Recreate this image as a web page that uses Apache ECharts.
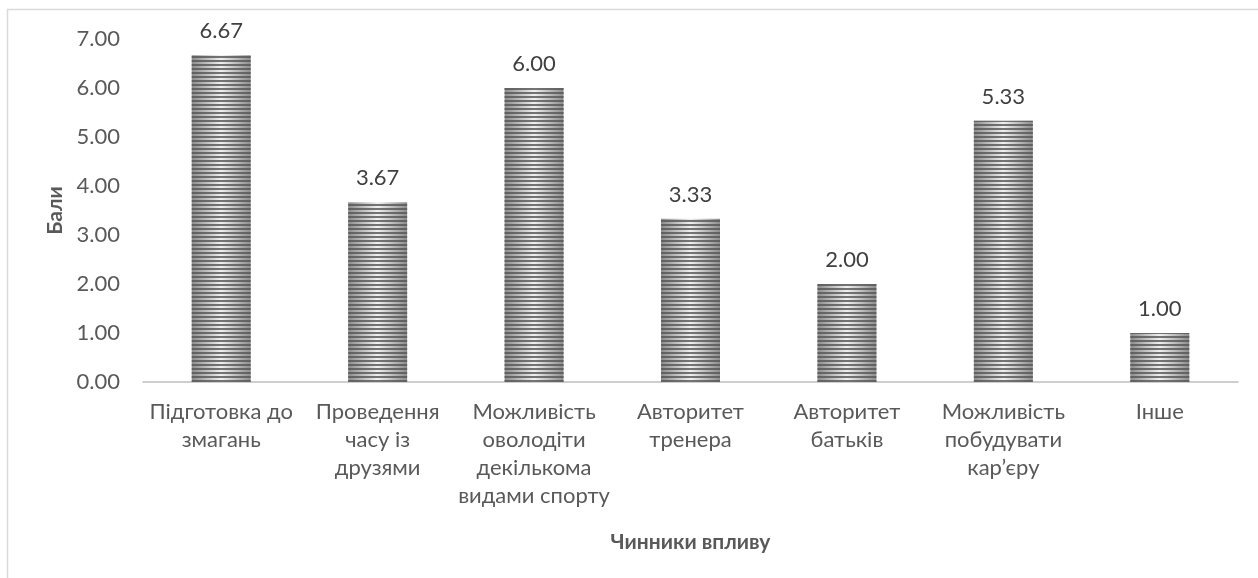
<!DOCTYPE html>
<html>
<head>
<meta charset="utf-8">
<script src="https://cdn.jsdelivr.net/npm/echarts@6/dist/echarts.min.js"></script>
<style>
html,body{margin:0;padding:0;background:#fff;}
#chart{width:1258px;height:578px;}
</style>
</head>
<body>
<div id="chart"></div>
<script>
const categories = [
  "Підготовка до\nзмагань",
  "Проведення\nчасу із\nдрузями",
  "Можливість\nоволодіти\nдекількома\nвидами спорту",
  "Авторитет\nтренера",
  "Авторитет\nбатьків",
  "Можливість\nпобудувати\nкар’єру",
  "Інше"
];
const values = [6.67, 3.67, 6.00, 3.33, 2.00, 5.33, 1.00];
const yAxisName = "Бали";
const xAxisName = "Чинники впливу";

const FONT = "Lato, 'Open Sans', sans-serif";
const chart = echarts.init(document.getElementById('chart'));
chart.setOption({
  animation: false,
  backgroundColor: '#ffffff',
  graphic: [{
    type: 'rect',
    shape: {x: 7.5, y: 9.5, width: 1400, height: 700},
    style: {fill: 'none', stroke: '#d9d9d9', lineWidth: 1.5},
    silent: true,
    z: -1
  }],
  grid: {left: 143, right: 20, top: 39, bottom: 196},
  xAxis: {
    type: 'category',
    data: categories,
    name: xAxisName,
    nameLocation: 'middle',
    nameGap: 150,
    nameTextStyle: {fontFamily: FONT, fontSize: 21, fontWeight: 'bold', color: '#595959'},
    axisLine: {lineStyle: {color: '#bfbfbf', width: 1.5}},
    axisTick: {show: false},
    axisLabel: {
      interval: 0,
      margin: 16,
      fontFamily: FONT,
      fontSize: 22,
      color: '#595959',
      lineHeight: 28
    }
  },
  yAxis: {
    type: 'value',
    min: 0,
    max: 7,
    interval: 1,
    name: yAxisName,
    nameLocation: 'middle',
    nameGap: 76,
    nameTextStyle: {fontFamily: FONT, fontSize: 21, fontWeight: 'bold', color: '#595959'},
    axisLine: {show: false},
    axisTick: {show: false},
    splitLine: {show: false},
    axisLabel: {
      margin: 23,
      fontFamily: FONT,
      fontSize: 22,
      color: '#595959',
      formatter: v => v.toFixed(2)
    }
  },
  series: [{
    type: 'bar',
    data: values,
    barWidth: 59,
    itemStyle: {
      color: {
        type: 'linear', x: 0, y: 0, x2: 1, y2: 0,
        colorStops: [
          {offset: 0, color: '#8c8c8c'},
          {offset: 0.5, color: '#f0f0f0'},
          {offset: 1, color: '#8c8c8c'}
        ]
      },
      decal: {
        symbol: 'rect',
        symbolSize: 1,
        dashArrayX: [1, 0],
        dashArrayY: [2, 2],
        rotation: 0,
        color: 'rgba(85,85,85,0.8)'
      }
    },
    label: {
      show: true,
      position: 'top',
      distance: 13,
      fontFamily: FONT,
      fontSize: 22,
      color: '#404040',
      formatter: p => p.value.toFixed(2)
    }
  }]
});
</script>
</body>
</html>
